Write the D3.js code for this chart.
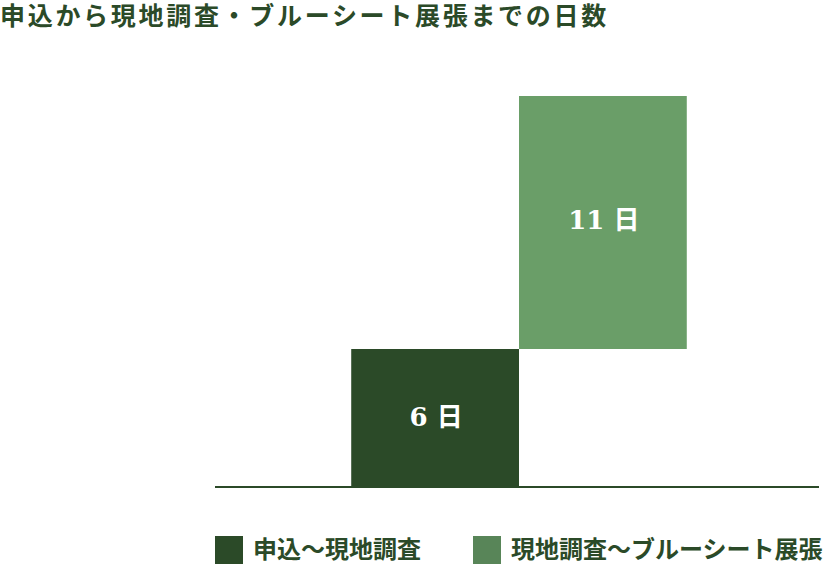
<!DOCTYPE html>
<html>
<head>
<meta charset="utf-8">
<script src="https://cdn.jsdelivr.net/npm/d3@7"></script>
<style>
  html, body { margin: 0; padding: 0; background: #fff; }
  svg { display: block; font-family: "Noto Sans CJK JP", "Noto Sans", sans-serif; }
</style>
</head>
<body>
<svg id="chart"></svg>
<script>
const title = '申込から現地調査・ブルーシート展張までの日数';
const steps = ['申込～現地調査', '現地調査～ブルーシート展張'];
const days = [6, 11];
const unit = '日';

const W = 824, H = 564;
const dark = '#2b4a28';
const barColors = ['#2b4a28', '#6a9e68'];
const legendColors = ['#2b4a28', '#588558'];

// each step starts where the previous one ended
const starts = days.map((_, i) => d3.sum(days.slice(0, i)));

const x = d3.scaleBand()
  .domain(steps)
  .range([217, 821])
  .paddingInner(0)
  .paddingOuter(0.8);

const y = d3.scaleLinear()
  .domain([0, d3.sum(days)])
  .range([487, 96]);

const svg = d3.select('#chart')
  .attr('width', W)
  .attr('height', H);

svg.append('text')
  .attr('x', 0)
  .attr('y', 25)
  .attr('fill', dark)
  .style('font-size', '25px')
  .style('font-weight', 700)
  .style('letter-spacing', '2.7px')
  .text(title);

const rows = steps.map((s, i) => ({step: s, start: starts[i], days: days[i], i}));

svg.append('g')
  .selectAll('rect')
  .data(rows)
  .join('rect')
  .attr('x', d => x(d.step))
  .attr('width', x.bandwidth())
  .attr('y', d => y(d.start + d.days))
  .attr('height', d => y(d.start) - y(d.start + d.days))
  .attr('fill', d => barColors[d.i]);

const labels = svg.append('g')
  .selectAll('text')
  .data(rows)
  .join('text')
  .attr('x', d => x(d.step) + x.bandwidth() / 2 + 1)
  .attr('y', d => y(d.start + d.days * 0.51) + 9)
  .attr('text-anchor', 'middle')
  .attr('fill', '#fff')
  .style('font-size', '26px')
  .style('font-weight', 700);
labels.append('tspan')
  .style('font-family', '"DejaVu Serif", serif')
  .text(d => d.days + ' ');
labels.append('tspan')
  .text(unit);

// baseline
svg.append('line')
  .attr('x1', 215)
  .attr('x2', 819)
  .attr('y1', y(0))
  .attr('y2', y(0))
  .attr('stroke', dark)
  .attr('stroke-width', 2);

// legend
const legendX = [215, 473];
const legend = svg.append('g')
  .selectAll('g')
  .data(steps)
  .join('g')
  .attr('transform', (d, i) => `translate(${legendX[i]},536)`);
legend.append('rect')
  .attr('width', 28)
  .attr('height', 28)
  .attr('fill', (d, i) => legendColors[i]);
legend.append('text')
  .attr('x', 38)
  .attr('y', 22)
  .attr('fill', dark)
  .style('font-size', '24px')
  .style('font-weight', 700)
  .text(d => d);
</script>
</body>
</html>
